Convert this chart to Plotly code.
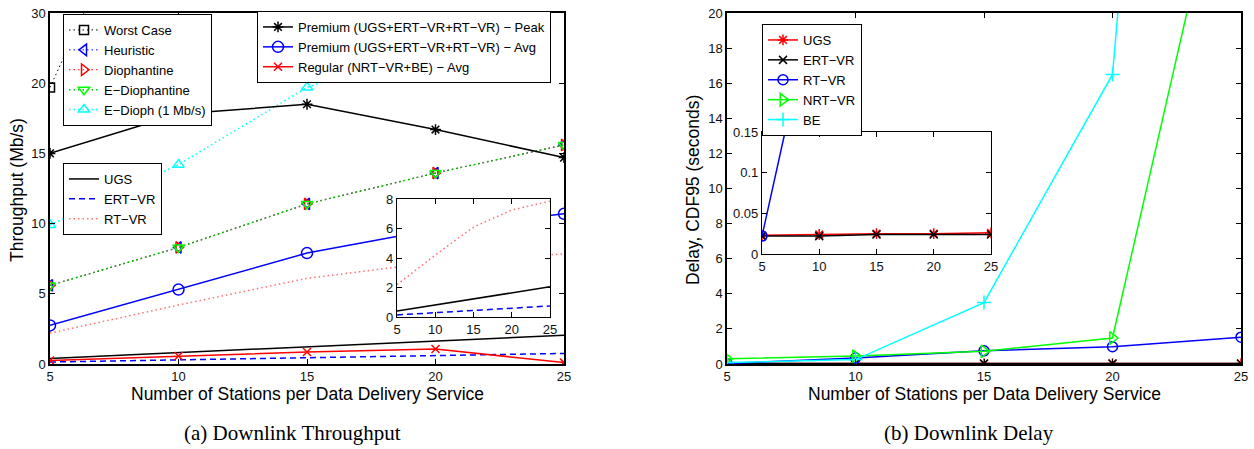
import plotly.graph_objects as go

# ---------------- data ----------------
stations = [5, 10, 15, 20, 25]

# (a) Downlink Throughput (Mb/s)
worst_case = [19.7, 40.0, 60.0, 80.0, 100.0]
heuristic = [5.6, 8.3, 11.4, 13.6, 15.6]
diophantine = [5.6, 8.3, 11.4, 13.6, 15.6]
e_diophantine = [5.6, 8.3, 11.4, 13.6, 15.6]
e_dioph_1mb = [9.9, 14.2, 19.7, 22.8, 26.0]
premium_peak = [15.0, 17.8, 18.5, 16.7, 14.7]
premium_avg = [2.75, 5.3, 7.9, 9.6, 10.7]
regular_avg = [0.25, 0.57, 0.85, 1.07, 0.1]
ugs_tput = [0.4, 0.8, 1.2, 1.6, 2.05]
ertvr_tput = [0.14, 0.3, 0.45, 0.6, 0.75]
rtvr_tput = [2.2, 4.2, 6.1, 7.25, 7.85]

# (b) Downlink Delay, CDF95 (seconds)
ugs_delay = [0.023, 0.024, 0.025, 0.025, 0.026]
ertvr_delay = [0.022, 0.022, 0.024, 0.024, 0.024]
rtvr_delay = [0.022, 0.34, 0.75, 0.98, 1.53]
nrtvr_delay = [0.3, 0.45, 0.72, 1.48, 33.5]
be_delay = [0.08, 0.25, 3.5, 16.5, 100.0]

tput_ticks = [0, 5, 10, 15, 20, 25]
tput_ticktext = ["0", "5", "10", "15", "20", "30"]
inset_tput_ticks = [0, 2, 4, 6, 8]
delay_ticks = [0, 2, 4, 6, 8, 10, 12, 14, 16, 18, 20]
inset_delay_ticks = [0, 0.05, 0.1, 0.15]
inset_delay_ticktext = ["0", "0.05", "0.1", "0.15"]
x_ticks = [5, 10, 15, 20, 25]

# ---------------- geometry ----------------
W, H = 1254, 449
def px(x):
    return x / W
def py(y):
    return 1 - y / H

BLACK = "#000000"
BLUE = "#0000FF"
RED = "#FF0000"
GREEN = "#00FF00"
CYAN = "#00FFFF"
PINK = "#FF7070"
FONT = "Liberation Sans"

fig = go.Figure()

def add(x, y, name, color, dash="solid", symbol=None, msize=9, xa="x", ya="y",
        legend="legend", showlegend=True, width=1.5, lcolor=None):
    mode = "lines+markers" if symbol else "lines"
    tr = dict(x=x, y=y, name=name, mode=mode, xaxis=xa, yaxis=ya,
              line=dict(color=lcolor or color, dash=dash, width=width),
              legend=legend, showlegend=showlegend, cliponaxis=True)
    if symbol:
        tr["marker"] = dict(symbol=symbol, size=msize, color=color,
                            line=dict(color=color, width=1.5))
    fig.add_trace(go.Scatter(**tr))

DOT = "1.5px,3px"
DASH = "6px,4px"

# left main - legend 1 (algorithms)
add(stations, worst_case, "Worst Case", BLACK, DOT, "square-open", 9, width=1)
add(stations, heuristic, "Heuristic", BLUE, DOT, "triangle-left-open", 10, width=1)
add(stations, diophantine, "Diophantine", RED, DOT, "triangle-right-open", 10, width=1)
add(stations, e_diophantine, "E\u2212Diophantine", GREEN, DOT, "triangle-down-open", 10, width=1.5, lcolor="#00c800")
add(stations, e_dioph_1mb, "E\u2212Dioph (1 Mb/s)", CYAN, DOT, "triangle-up-open", 10, width=1.5)

# left main - legend 3 (classes)
add(stations, ugs_tput, "UGS", BLACK, "solid", legend="legend3")
add(stations, ertvr_tput, "ERT\u2212VR", BLUE, DASH, legend="legend3")
add(stations, rtvr_tput, "RT\u2212VR", PINK, DOT, legend="legend3", width=1.5)

# left main - legend 2 (aggregates)
add(stations, premium_peak, "Premium (UGS+ERT\u2212VR+RT\u2212VR) \u2212 Peak", BLACK, "solid", "asterisk-open", 9, legend="legend2")
add(stations, premium_avg, "Premium (UGS+ERT\u2212VR+RT\u2212VR) \u2212 Avg", BLUE, "solid", "circle-open", 11, legend="legend2")
add(stations, regular_avg, "Regular (NRT\u2212VR+BE) \u2212 Avg", RED, "solid", "x-thin-open", 8, legend="legend2")

# left inset
add(stations, ugs_tput, "UGS", BLACK, "solid", xa="x2", ya="y2", showlegend=False)
add(stations, ertvr_tput, "ERT\u2212VR", BLUE, DASH, xa="x2", ya="y2", showlegend=False)
add(stations, rtvr_tput, "RT\u2212VR", PINK, DOT, xa="x2", ya="y2", showlegend=False, width=1.5)

# right main
add(stations, ugs_delay, "UGS", RED, "solid", "asterisk-open", 9, xa="x3", ya="y3", legend="legend4")
add(stations, ertvr_delay, "ERT\u2212VR", BLACK, "solid", "x-thin-open", 8, xa="x3", ya="y3", legend="legend4")
add(stations, rtvr_delay, "RT\u2212VR", BLUE, "solid", "circle-open", 10, xa="x3", ya="y3", legend="legend4")
add(stations, nrtvr_delay, "NRT\u2212VR", GREEN, "solid", "triangle-right-open", 11, xa="x3", ya="y3", legend="legend4")
add(stations, be_delay, "BE", CYAN, "solid", "cross-thin-open", 10, xa="x3", ya="y3", legend="legend4")

# right inset
add(stations, ugs_delay, "UGS", RED, "solid", "asterisk-open", 9, xa="x4", ya="y4", showlegend=False)
add(stations, ertvr_delay, "ERT\u2212VR", BLACK, "solid", "x-thin-open", 8, xa="x4", ya="y4", showlegend=False)
add(stations, rtvr_delay, "RT\u2212VR", BLUE, "solid", "circle-open", 10, xa="x4", ya="y4", showlegend=False)

tickfont = dict(family=FONT, size=13, color="#111111")

def ax(domain, rng, tickvals, anchor, ticktext=None, lw=1.5):
    d = dict(domain=domain, range=rng, tickvals=tickvals, anchor=anchor,
             ticks="inside", ticklen=5, tickwidth=1, tickcolor=BLACK,
             showline=True, linecolor=BLACK, linewidth=lw, mirror="ticks",
             showgrid=False, zeroline=False, tickfont=tickfont, fixedrange=True,
             automargin=False)
    if ticktext is not None:
        d["ticktext"] = ticktext
    return d

fig.update_layout(
    template="none",
    width=W, height=H,
    margin=dict(l=0, r=0, t=0, b=0, pad=0, autoexpand=False),
    paper_bgcolor="white", plot_bgcolor="white",
    font=dict(family=FONT, color=BLACK),
    xaxis=ax([px(50), px(564)], [5, 25], x_ticks, "y"),
    yaxis=ax([py(364), py(13)], [0, 25], tput_ticks, "x", tput_ticktext),
    xaxis2=ax([px(397), px(550)], [5, 25], x_ticks, "y2", lw=1.2),
    yaxis2=ax([py(317), py(199)], [0, 8], inset_tput_ticks, "x2", lw=1.2),
    xaxis3=ax([px(727), px(1241)], [5, 25], x_ticks, "y3"),
    yaxis3=ax([py(364), py(13)], [0, 20], delay_ticks, "x3"),
    xaxis4=ax([px(762), px(991)], [5, 25], x_ticks, "y4", lw=1.2),
    yaxis4=ax([py(254), py(132)], [0, 0.15], inset_delay_ticks, "x4", inset_delay_ticktext, lw=1.2),
)

legend_common = dict(bgcolor="white", bordercolor=BLACK, borderwidth=1,
                     font=dict(family=FONT, size=13, color=BLACK),
                     xanchor="left", itemwidth=30,
                     traceorder="normal", tracegroupgap=0)
fig.update_layout(
    legend=dict(x=px(63), y=py(14), yanchor="top", **legend_common),
    legend2=dict(x=px(257), y=py(47), yanchor="middle", **legend_common),
    legend3=dict(x=px(63), y=py(199), yanchor="middle", **legend_common),
    legend4=dict(x=px(762), y=py(24), yanchor="top", **legend_common),
)

title_font = dict(family=FONT, size=17.5, color=BLACK)
cap_font = dict(family="Liberation Serif", size=21, color=BLACK)
annos = [
    dict(text="Number of Stations per Data Delivery Service", x=px(307), y=py(394), font=title_font),
    dict(text="Number of Stations per Data Delivery Service", x=px(984), y=py(394), font=title_font),
    dict(text="Throughput (Mb/s)", x=px(17), y=py(190), font=title_font, textangle=-90),
    dict(text="Delay, CDF95 (seconds)", x=px(693), y=py(190), font=title_font, textangle=-90),
    dict(text="(a) Downlink Throughput", x=px(292), y=py(433), font=cap_font),
    dict(text="(b) Downlink Delay", x=px(969), y=py(433), font=cap_font),
]
for a in annos:
    fig.add_annotation(xref="paper", yref="paper", showarrow=False,
                       xanchor="center", yanchor="middle", **a)

fig.write_html("out.html", config={"displayModeBar": False},
               post_script="document.body.style.margin='0px';")
